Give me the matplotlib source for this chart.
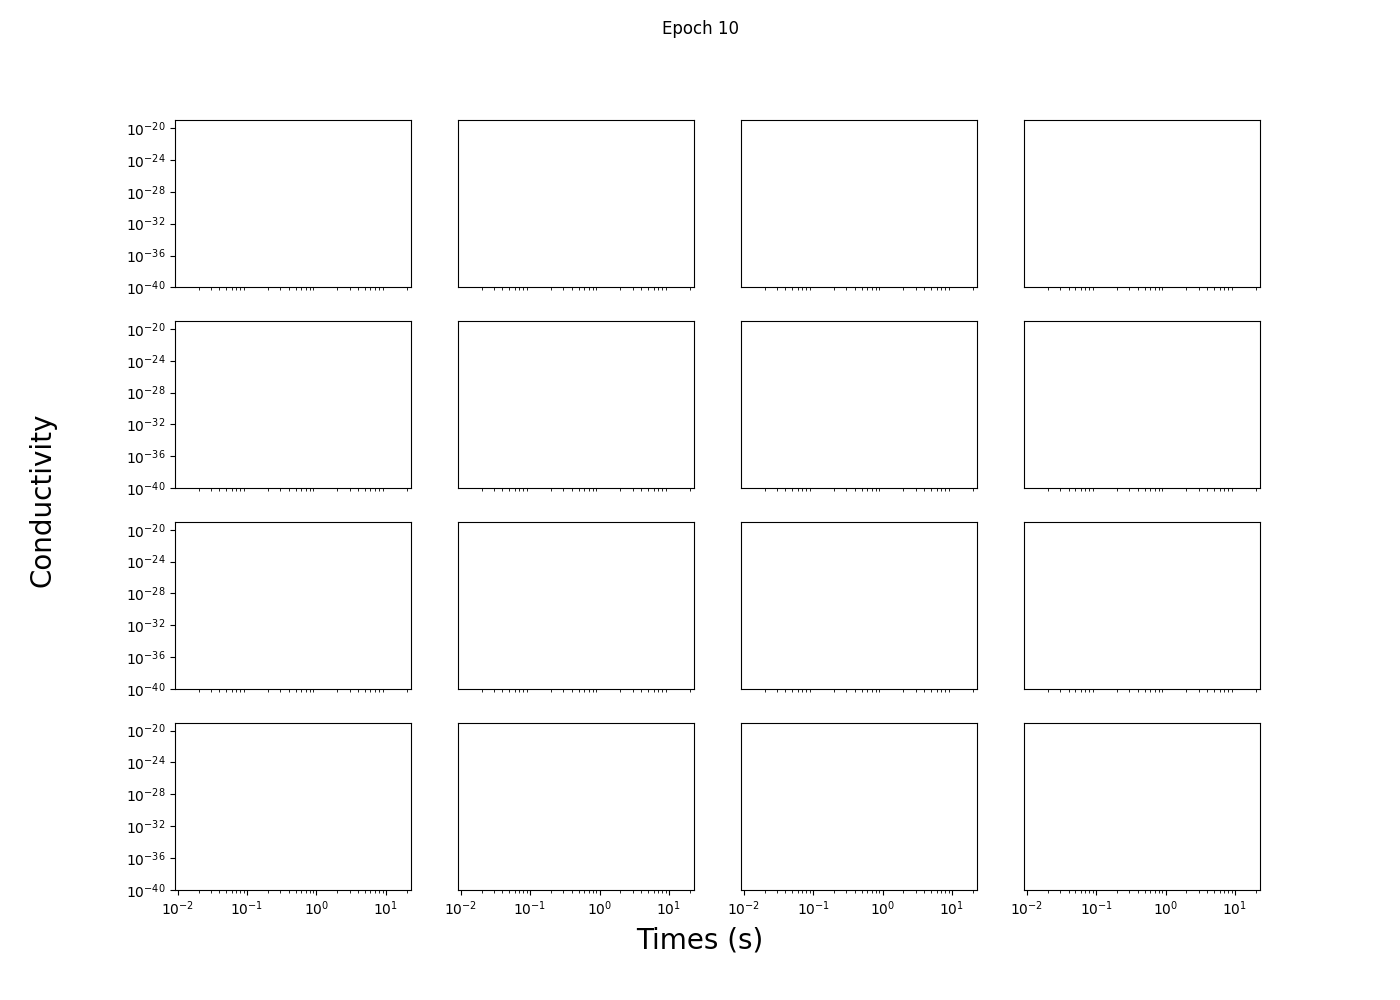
import matplotlib
matplotlib.use("Agg")
import matplotlib.pyplot as plt

# ---------------- chart values ----------------
epoch = 10
n_rows, n_cols = 4, 4
time_lim = [0.00917, 22.9]        # seconds
cond_lim = [1e-40, 1e-19]
cond_ticks = [1e-40, 1e-36, 1e-32, 1e-28, 1e-24, 1e-20]

fig, axes = plt.subplots(n_rows, n_cols, figsize=(14, 10), dpi=100,
                         sharex=True, sharey=True)

for i in range(n_rows):
    for j in range(n_cols):
        ax = axes[i, j]
        ax.set_xscale("log")
        ax.set_yscale("log")
        ax.set_xlim(time_lim)
        ax.set_ylim(cond_lim)
        ax.set_yticks(cond_ticks)
        # inner panels: drop the major ticks only (minor stay)
        if i < n_rows - 1:
            ax.tick_params(bottom=False)
        if j > 0:
            ax.tick_params(left=False)

fig.suptitle(f"Epoch {epoch}")
fig.supxlabel("Times (s)", fontsize=20, y=0.045)
fig.supylabel("Conductivity", fontsize=20)

fig.savefig("out.png")
